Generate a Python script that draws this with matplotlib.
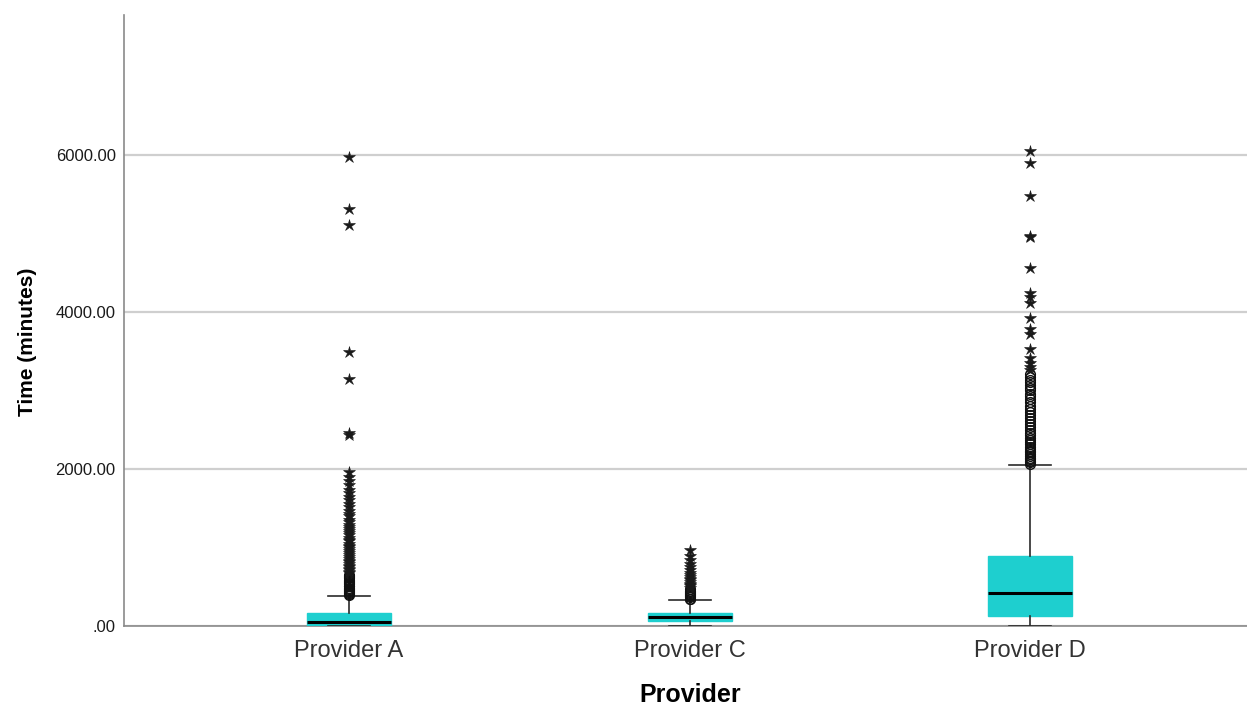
import matplotlib
matplotlib.use('Agg')
import matplotlib.pyplot as plt
import numpy as np

# categorias e estatisticas das caixas
providers = ['Provider A', 'Provider C', 'Provider D']
q1 = [0, 62, 127]
medians = [50, 112, 420]
q3 = [166, 162, 892]
whisk_lo = [0, 0, 0]
whisk_hi = [382, 331, 2051]

# outliers (circulos) e extremos (estrelas)
A_circles = [392, 405, 418, 433, 447, 462, 470, 488, 503, 515, 531, 548, 560, 577, 592, 606, 623, 640, 652]
A_stars = [672, 690, 712, 731, 748, 770, 792, 811, 834, 858, 880, 903, 927, 951, 975, 1002, 1024, 1050,
           1078, 1101, 1126, 1155, 1182, 1208, 1236, 1262, 1290, 1322, 1356, 1395, 1430, 1465, 1510,
           1552, 1600, 1640, 1692, 1735, 1790, 1842, 1895, 1960, 2430, 2452, 3150, 3495, 5100, 5315, 5975]
C_circles = [338, 350, 364, 377, 392, 405, 421, 436, 452, 468]
C_stars = [488, 505, 522, 540, 561, 583, 604, 630, 655, 680, 712, 745, 790, 840, 895, 965]
D_circles = [2068, 2085, 2104, 2122, 2140, 2163, 2188, 2210, 2232, 2258, 2285, 2312, 2340, 2371, 2398,
             2430, 2462, 2497, 2533, 2570, 2610, 2648, 2690, 2726, 2768, 2805, 2850, 2888, 2925, 2960,
             3002, 3035, 3070, 3105, 3132, 3170, 3205]
D_stars = [3262, 3292, 3352, 3410, 3530, 3720, 3782, 3922, 4110, 4190, 4240, 4560, 4950, 4972, 5480, 5900, 6052]

yticks = [0, 2000, 4000, 6000]
ytick_labels = ['.00', '2000.00', '4000.00', '6000.00']

box_color = '#1ecfcf'
line_color = '#2a2a2a'

fig = plt.figure(figsize=(12.47, 7.08), dpi=100)
ax = fig.add_axes([124 / 1247, 82 / 708, 1123 / 1247, 611 / 708])

stats = []
for i in range(len(providers)):
    stats.append({'q1': q1[i], 'med': medians[i], 'q3': q3[i],
                  'whislo': whisk_lo[i], 'whishi': whisk_hi[i], 'label': providers[i]})

pos = np.arange(len(providers))
ax.bxp(stats, positions=pos, widths=0.247, capwidths=0.123, patch_artist=True, showfliers=False,
       boxprops=dict(facecolor=box_color, edgecolor=box_color, linewidth=1),
       medianprops=dict(color='black', linewidth=2.2),
       whiskerprops=dict(color=line_color, linewidth=1.2),
       capprops=dict(color=line_color, linewidth=1.2), zorder=3)

circles = [A_circles, C_circles, D_circles]
stars = [A_stars, C_stars, D_stars]
for i in range(len(providers)):
    ax.plot(np.full(len(circles[i]), pos[i]), circles[i], 'o', markersize=7,
            markerfacecolor='none', markeredgecolor='#111111', markeredgewidth=1.0, zorder=4)
    ax.plot(np.full(len(stars[i]), pos[i]), stars[i], '*', markersize=9,
            color='#1a1a1a', markeredgewidth=0.4, zorder=4)

ax.set_xlim(-0.661, 2.637)
ax.set_ylim(0, 7780)
ax.set_yticks(yticks)
ax.set_yticklabels(ytick_labels, fontsize=12, color='#1a1a1a', family=['Liberation Sans', 'DejaVu Sans'])
ax.set_xticks(pos)
ax.set_xticklabels(providers, fontsize=17, color='#333333', family=['Liberation Sans', 'DejaVu Sans'])
ax.tick_params(axis='both', length=0)
ax.tick_params(axis='y', pad=6)
ax.tick_params(axis='x', pad=10)

ax.yaxis.grid(True, color='#cfcfcf', linewidth=1.6, zorder=0)
ax.set_axisbelow(True)
for s in ['top', 'right']:
    ax.spines[s].set_visible(False)
for s in ['left', 'bottom']:
    ax.spines[s].set_color('#8a8a8a')
    ax.spines[s].set_linewidth(1.2)

fig.text(27.5 / 1247, 1 - 342 / 708, 'Time (minutes)', rotation=90, ha='center', va='center',
         fontsize=15, fontweight='bold', family=['Liberation Sans', 'DejaVu Sans'])
fig.text(690 / 1247, 1 - 695 / 708, 'Provider', ha='center', va='center',
         fontsize=18, fontweight='bold', family=['Liberation Sans', 'DejaVu Sans'])

fig.savefig('out.png', dpi=100)
